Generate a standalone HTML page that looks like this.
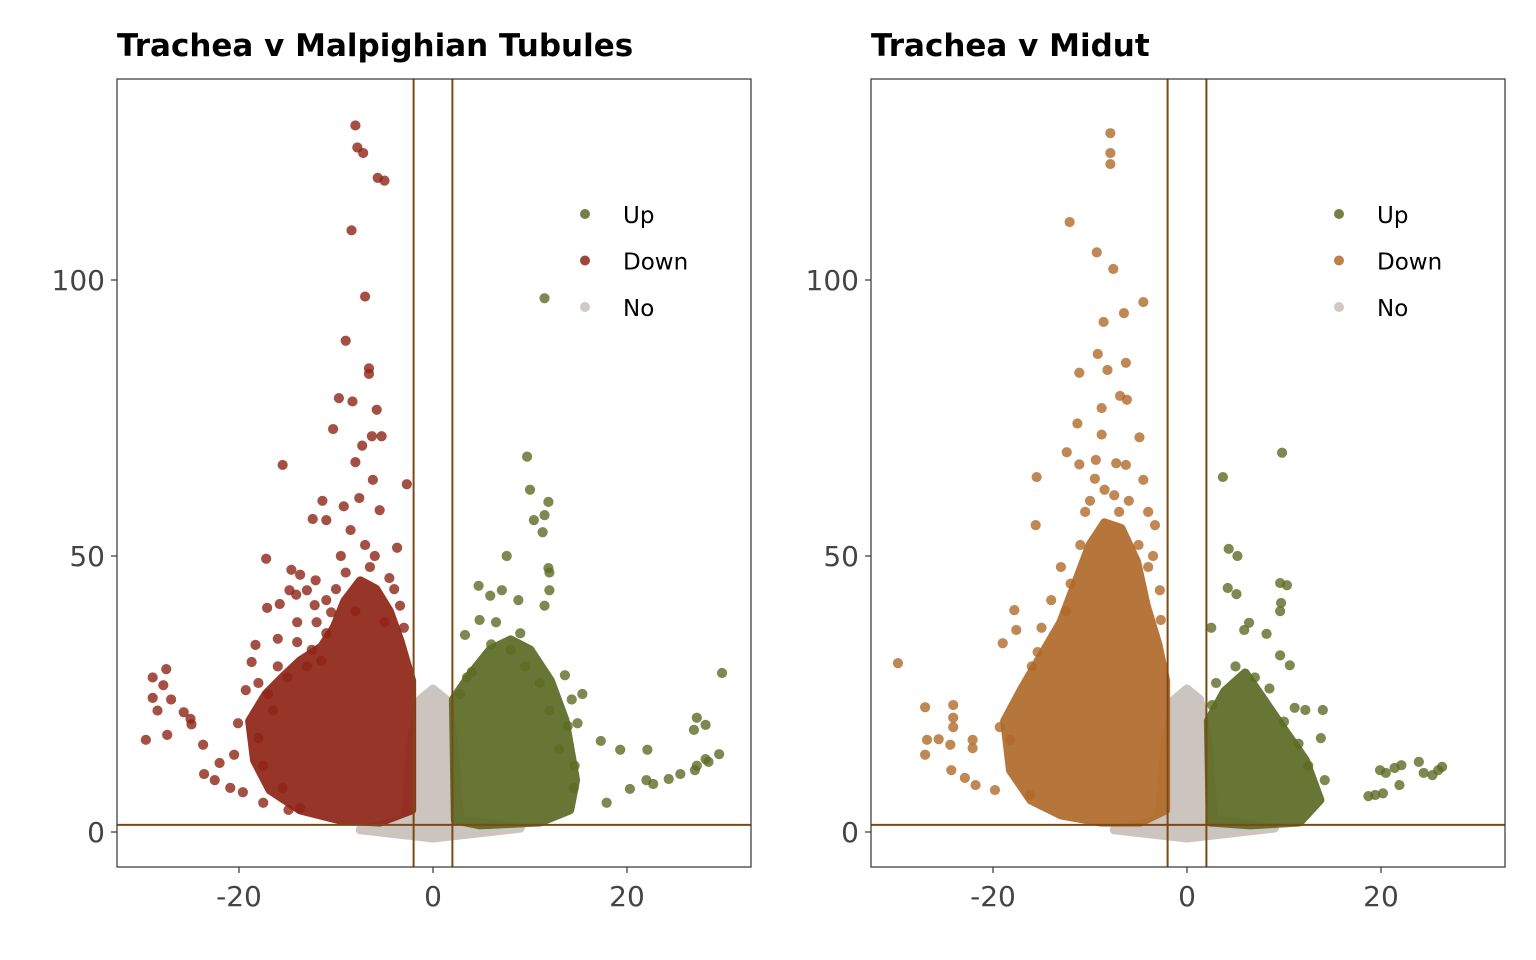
<!DOCTYPE html>
<html><head><meta charset="utf-8">
<style>
html,body{margin:0;padding:0;background:#fff;}
svg{display:block;font-family:"DejaVu Sans","Liberation Sans",sans-serif;}
</style></head>
<body>
<svg id="chart" width="1536" height="960" viewBox="0 0 1536 960"></svg>
<script>
// ---------- DATA ----------
const xTicks = [-20, 0, 20];
const yTicks = [0, 50, 100];
const xCut = [-2, 2];
const yCut = 1.3;
const panelTitles = ["Trachea v Malpighian Tubules", "Trachea v Midut"];
const legendLabels = ["Up", "Down", "No"];

const leftDown = [[-8.0,128],[-7.8,124],[-7.2,123],[-5.7,118.5],[-5.0,118],[-8.4,109],[-7.0,97],[-9.0,89],[-6.6,84],[-6.6,83],[-9.7,78.6],[-8.3,78],[-5.8,76.5],[-10.3,73],[-7.3,70],[-6.3,71.7],[-5.3,71.7],[-15.5,66.5],[-8.0,67],[-2.7,63],[-6.2,63.8],[-11.4,60],[-7.6,60.5],[-9.2,59],[-12.4,56.7],[-11.0,56.5],[-5.5,58.3],[-8.5,54.7],[-17.2,49.5],[-14.6,47.5],[-3.7,51.5],[-13.7,46.6],[-12.1,45.6],[-14.8,43.8],[-14.1,43],[-17.1,40.6],[-15.8,41.3],[-13,43.8],[-12.2,41.1],[-10.5,39.8],[-3.4,41],[-18.7,30.8],[-18.3,33.9],[-14,34.4],[-19.3,25.7],[-20.1,19.7],[-22,12.5],[-23.6,10.5],[-22.5,9.4],[-20.9,8],[-19.6,7.2],[-17.5,5.3],[-14.9,4],[-13.7,4.3],[-28.9,28],[-27.5,29.5],[-27.8,26.6],[-28.9,24.3],[-27,24],[-28.4,22],[-25.7,21.7],[-25,20.5],[-29.6,16.7],[-27.4,17.6],[-24.9,19.5],[-23.7,15.8],[-20.5,14],[-9.5,50],[-6.5,48],[-4.5,46],[-11,36],[-8,40],[-5,38],[-16,30],[-17,25],[-12.5,33],[-15,28],[-13,30],[-11.5,31],[-16.5,22],[-18,17],[-17.5,12],[-15.5,8],[-12,38],[-10,44],[-7,52],[-4,44],[-3,37],[-6,50],[-9,47],[-11,42],[-14,38],[-16,35],[-18,27]];
const leftDownCore = [[-18.9,20.1],[-17.2,25],[-15.5,28],[-13.7,31],[-11.5,33.5],[-10.2,37],[-9.1,41.8],[-7.5,45.5],[-5.9,44],[-4.5,40],[-3.4,34.6],[-2.2,27.4],[-2.2,4],[-5.5,1.8],[-9.6,2.2],[-13.7,4],[-16.8,7.6],[-18.4,13]];
const leftUp = [[9.7,68],[10,62],[11.9,59.8],[11.5,57.4],[10.4,56.5],[11.3,54.3],[11.9,47.8],[12,47],[7.6,50],[4.7,44.6],[5.9,42.8],[7.1,43.8],[8.8,42],[12,43.8],[11.5,41],[3.3,35.7],[4.8,38.4],[15.4,25],[13.6,28.4],[14.3,24],[13.9,19.2],[14.9,19.7],[17.3,16.5],[19.3,14.9],[17.9,5.3],[20.3,7.8],[22.1,14.9],[22,9.4],[22.7,8.7],[24.3,9.6],[25.5,10.5],[27,11.2],[27.2,12],[28.1,13.2],[28.4,12.7],[29.5,14.1],[27.2,20.7],[28.1,19.4],[26.9,18.5],[29.8,28.8],[11.5,96.7],[14.6,12],[6,34],[8,33],[9.5,30],[3.5,28],[11,27],[2.8,25],[4,29],[12,22],[13,15],[14.5,8],[6.5,38],[9,36]];
const leftUpCore = [[2.1,24],[3.8,28.4],[5.9,33],[8,34.8],[10,33],[12.1,27.4],[13.6,20.3],[14.7,9.4],[14.1,4],[11,1.8],[4.8,1.3],[2.3,2.2]];
const leftNoCore = [[-2.9,2.2],[-2.2,16.7],[-1.3,24],[0,25.9],[1.3,24],[2.1,16.7],[2.8,2.2],[9,0.7],[0,-1.1],[-7.5,0.4]];
const rightDown = [[-7.9,126.6],[-7.9,123],[-7.9,121],[-12.1,110.5],[-9.3,105],[-7.6,102],[-4.5,96],[-6.5,94],[-8.6,92.4],[-9.2,86.6],[-6.3,85],[-11.1,83.2],[-8.2,83.7],[-6.9,79],[-6.2,78.3],[-8.8,76.8],[-11.3,74],[-8.8,72],[-4.9,71.5],[-12.4,68.8],[-11.1,66.6],[-9.4,67.4],[-7.3,66.8],[-6.3,66.5],[-15.5,64.3],[-4.5,63.8],[-15.6,55.6],[-3.3,55.6],[-17.8,40.2],[-17.6,36.6],[-19,34.2],[-15.4,32.6],[-29.8,30.6],[-27,22.6],[-24.1,23],[-24.1,20.7],[-24.1,19],[-26.8,16.7],[-25.6,16.8],[-27,14],[-24.4,15.8],[-22.1,16.7],[-22.1,15.2],[-24.3,11.2],[-22.9,9.8],[-21.8,8.5],[-19.8,7.6],[-19.3,19],[-18.2,16.7],[-16.2,6.7],[-2.8,43.8],[-2.7,38.4],[-10,60],[-7,58],[-5,52],[-12,45],[-4,48],[-8.5,62],[-10.5,58],[-6,60],[-11,52],[-13,48],[-14,42],[-12.5,40],[-15,37],[-16,30],[-4,58],[-3.5,50],[-9.5,64],[-7.5,61]];
const rightDownCore = [[-18.8,20.1],[-17,26],[-15,32],[-13,38],[-11.5,45],[-10,52],[-8.5,56],[-6.8,55],[-5.2,49],[-4.2,41],[-3,34],[-2.2,27.4],[-2.2,4],[-4.8,1.8],[-8.9,1.8],[-13,3.1],[-16.1,5.8],[-18.2,11.2]];
const rightUp = [[3.7,64.3],[9.8,68.7],[4.3,51.3],[5.2,50],[4.2,44.2],[5.1,43.1],[9.6,45.1],[10.3,44.7],[9.7,41.5],[9.6,40],[2.5,37],[6.4,37.9],[8.2,35.9],[5.9,36.6],[9.6,32],[10.6,30.2],[11.1,22.5],[12.2,22.1],[14,22.1],[13.8,17],[14.2,9.4],[18.7,6.5],[19.4,6.7],[20.2,7],[19.9,11.2],[20.5,10.7],[21.4,11.6],[22.1,12.1],[21.9,8.5],[23.9,12.7],[24.4,10.7],[25.3,10.3],[25.9,11.2],[26.3,11.8],[5,30],[7,28],[3,27],[2.6,23],[8.5,26],[10,20],[11.5,16],[12.5,12]];
const rightUpCore = [[2.2,20.1],[3.9,25.5],[6,28.8],[8,23.7],[10.1,18.3],[12.2,13],[13.7,5.8],[11.6,1.8],[6.5,1.3],[2.4,1.8]];
const rightNoCore = [[-2.9,2.2],[-2.2,16.7],[-1.3,24],[0,25.9],[1.3,24],[2.1,16.7],[2.8,2.2],[9,0.7],[0,-1.1],[-7.5,0.4]];
</script>
<script>
const NS = "http://www.w3.org/2000/svg";
const svg = document.getElementById("chart");
const COL = {up:"#5c6b24", down1:"#8f2416", down2:"#b06a2a", no:"#c8c0ba", line:"#7a4a12"};
function mk(tag, attrs, parent){const e=document.createElementNS(NS,tag);for(const k in attrs)e.setAttribute(k,attrs[k]);(parent||svg).appendChild(e);return e;}

function panel(px0, title, downPts, downCore, upPts, upCore, noCore, downCol, idx){
  const L=px0, R=px0+634, T=79, B=867;
  const x0 = px0+316, xs = 9.7, y0 = 832, ys = 5.52;
  const X = v => x0 + v*xs, Y = v => y0 - v*ys;
  const g = mk("g",{});
  
  
  const t = mk("text",{x:L,y:56,"font-size":31,"font-weight":"bold",fill:"#000"},g);
  t.textContent = title;
  
  
  const clip = mk("clipPath",{id:"clip"+idx},g);
  mk("rect",{x:L,y:T,width:R-L,height:B-T},clip);
  const pg = mk("g",{"clip-path":"url(#clip"+idx+")"},g);
  function core(arr,col,name){
    const p = mk("polygon",{points:arr.map(d=>X(d[0])+","+Y(d[1])).join(" "),fill:col,stroke:col,"stroke-width":9,"stroke-linejoin":"round",opacity:0.92},pg);
    
    
  }
  function pts(arr,col,name){
    arr.forEach(d=>{
      const c = mk("circle",{cx:X(d[0]),cy:Y(d[1]),r:5.1,fill:col,"fill-opacity":0.8},pg);
      
      
    });
  }
  core(noCore, COL.no, 'no-cluster');
  core(downCore, downCol, 'down-cluster');
  core(upCore, COL.up, 'up-cluster');
  pts(downPts, downCol, 'down-point');
  pts(upPts, COL.up, 'up-point');
  xCut.forEach(v=>{
    const l = mk("line",{x1:X(v),x2:X(v),y1:T,y2:B,stroke:COL.line,"stroke-width":2},pg);
    
    
  });
  const h = mk("line",{x1:L,x2:R,y1:Y(yCut),y2:Y(yCut),stroke:COL.line,"stroke-width":2},pg);
  
  
  const fr = mk("rect",{x:L,y:T,width:R-L,height:B-T,fill:"none",stroke:"#333","stroke-width":1.2},g);
  
  
  xTicks.forEach(v=>{
    mk("line",{x1:X(v),x2:X(v),y1:B,y2:B+6,stroke:"#333","stroke-width":1.2},g);
    const tx = mk("text",{x:X(v),y:906,"font-size":28,fill:"#444","text-anchor":"middle"},g);
    tx.textContent = v;
    
    
  });
  yTicks.forEach(v=>{
    mk("line",{x1:L-6,x2:L,y1:Y(v),y2:Y(v),stroke:"#333","stroke-width":1.2},g);
    const ty = mk("text",{x:L-12,y:Y(v)+10,"font-size":28,fill:"#444","text-anchor":"end"},g);
    ty.textContent = v;
    
    
  });
  const cols = [COL.up, downCol, COL.no];
  legendLabels.forEach((lab,i)=>{
    const ly = 214 + i*46.5;
    const lg = mk("g",{},g);
    
    
    mk("circle",{cx:L+468,cy:ly,r:5,fill:cols[i],"fill-opacity":0.85},lg);
    const lt = mk("text",{x:L+506,y:ly+9,"font-size":23,fill:"#000"},lg);
    lt.textContent = lab;
  });
}
panel(117, panelTitles[0], leftDown, leftDownCore, leftUp, leftUpCore, leftNoCore, COL.down1, 0);
panel(871, panelTitles[1], rightDown, rightDownCore, rightUp, rightUpCore, rightNoCore, COL.down2, 1);
</script>
</body></html>
